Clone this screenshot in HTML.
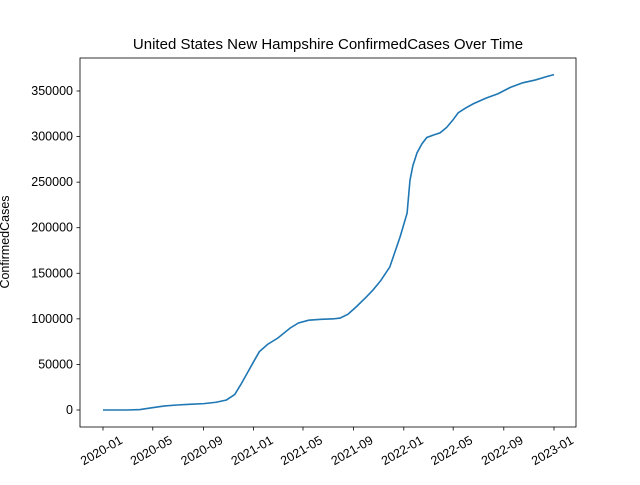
<!DOCTYPE html>
<html><head><meta charset="utf-8"><style>body{margin:0;background:#fff}svg{font-family:"Liberation Sans","DejaVu Sans",sans-serif}</style></head>
<body>
<svg id="c" width="640" height="480"></svg>
<script>
const days=[0,60,90,120,150,180,210,245,275,300,320,335,350,366,380,400,425,455,475,500,530,560,576,595,615,640,656,675,697,722,739,746,753,763,775,787,805,819,835,850,863,880,900,930,960,990,1020,1050,1080,1096];
const cases=[0,0,500,2500,4500,5500,6200,7000,8500,11000,17000,28000,40000,53000,64000,72000,79000,90000,95500,98500,99500,100000,100900,105000,113000,124000,131600,142000,157000,190000,216000,252000,268000,282000,292000,299000,302000,304000,310000,318000,326000,331000,336000,342000,347000,354000,359000,362000,366000,368000];
const yTicks=[0,50000,100000,150000,200000,250000,300000,350000];
const xTickDays=[0,121,244,366,486,609,731,851,974,1096];
const xTickLabels=["2020-01","2020-05","2020-09","2021-01","2021-05","2021-09","2022-01","2022-05","2022-09","2023-01"];
const L=80,R=576,T=58,B=427;
const X=d=>103+d*(554-103)/1096;
const Y=v=>410-v*(410-91)/350000;
const s=document.getElementById('c');
function el(t,a,txt){const e=document.createElementNS('http://www.w3.org/2000/svg',t);for(const k in a)e.setAttribute(k,a[k]);if(txt!==undefined)e.textContent=txt;s.appendChild(e);return e;}
let r=el('rect',{x:L,y:T,width:R-L,height:B-T,fill:'none',stroke:'#000','stroke-width':0.8});


yTicks.forEach(v=>{const y=Y(v);
let l=el('line',{x1:L-3.5,x2:L,y1:y,y2:y,stroke:'#000','stroke-width':0.8});


let t=el('text',{x:L-7,y:y+4,'text-anchor':'end','font-size':12.5},String(v));

});
xTickDays.forEach((d,i)=>{const x=X(d);
let l=el('line',{x1:x,x2:x,y1:B,y2:B+3.5,stroke:'#000','stroke-width':0.8});


const ax=x+16,ay=B+8;
let t=el('text',{x:ax,y:ay,'text-anchor':'end','font-size':12.5,transform:`rotate(-30 ${ax} ${ay})`,'dominant-baseline':'hanging'},xTickLabels[i]);

});
let p=el('polyline',{points:days.map((d,i)=>X(d)+','+Y(cases[i])).join(' '),fill:'none',stroke:'#1f77b4','stroke-width':1.6});


let ti=el('text',{x:328,y:49,'text-anchor':'middle','font-size':15},'United States New Hampshire ConfirmedCases Over Time');


let yl=el('text',{x:9,y:242,'text-anchor':'middle','font-size':12.5,transform:'rotate(-90 9 242)'},'ConfirmedCases');


</script>
</body></html>
